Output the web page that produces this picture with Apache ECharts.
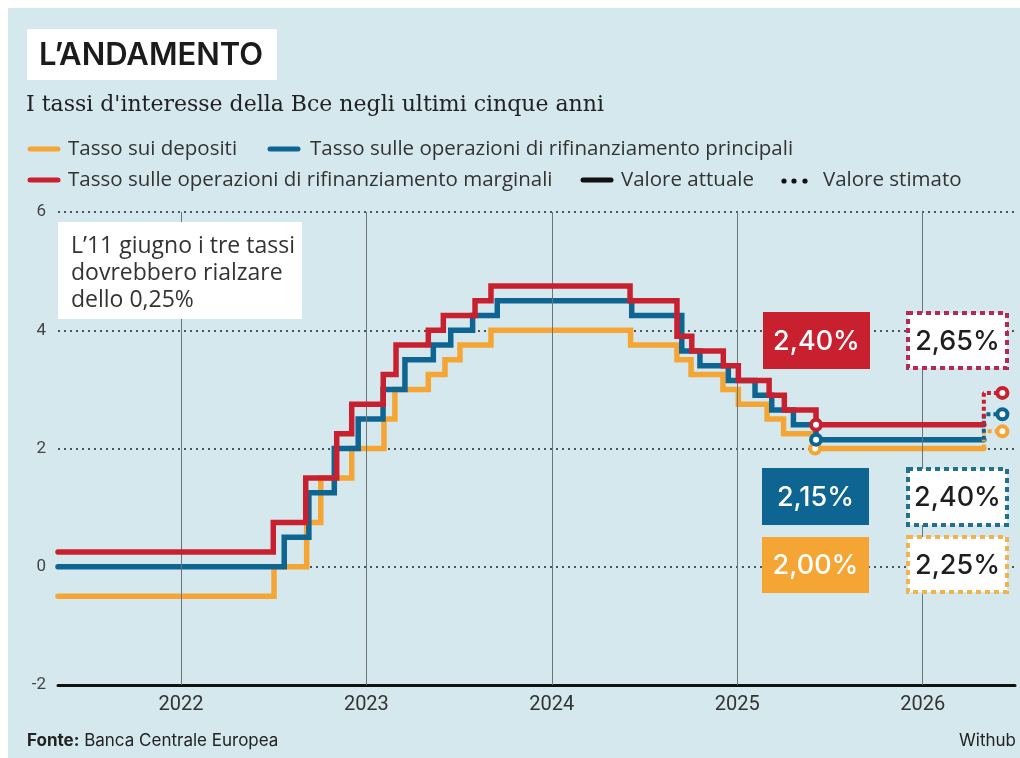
<!DOCTYPE html>
<html>
<head>
<meta charset="utf-8">
<script src="https://cdn.jsdelivr.net/npm/echarts@6/dist/echarts.min.js"></script>
<style>
html,body{margin:0;padding:0;background:#fff;}
#chartMain{width:1020px;height:758px;}
</style>
</head>
<body>
<div id="chartMain"></div>
<script>
// asse x in anni decimali, asse y in %
var yearTicks = [2022, 2023, 2024, 2025, 2026];

// Tasso sui depositi (date di variazione / nuovo valore)
var depositiDate = [2021.337, 2022.502, 2022.678, 2022.754, 2022.921, 2023.095, 2023.154, 2023.334, 2023.424, 2023.505, 2023.672,
    2024.425, 2024.675, 2024.751, 2024.923, 2025.006, 2025.161, 2025.250, 2025.420];
var depositiVal = [-0.5, 0, 0.75, 1.5, 2.0, 2.5, 3.0, 3.25, 3.5, 3.75, 4.0,
    3.75, 3.5, 3.25, 3.0, 2.75, 2.5, 2.25, 2.0];

// Tasso operazioni di rifinanziamento principali
var principaliDate = [2021.337, 2022.557, 2022.690, 2022.827, 2022.956, 2023.090, 2023.208, 2023.361, 2023.455, 2023.573, 2023.706,
    2024.431, 2024.701, 2024.799, 2024.952, 2025.096, 2025.186, 2025.303, 2025.425];
var principaliVal = [0, 0.5, 1.25, 2.0, 2.5, 3.0, 3.5, 3.75, 4.0, 4.25, 4.5,
    4.25, 3.65, 3.4, 3.15, 2.9, 2.65, 2.4, 2.15];

// Tasso operazioni di rifinanziamento marginali
var marginaliDate = [2021.337, 2022.498, 2022.673, 2022.840, 2022.921, 2023.091, 2023.160, 2023.334, 2023.415, 2023.586, 2023.672,
    2024.422, 2024.675, 2024.755, 2024.925, 2025.006, 2025.172, 2025.254, 2025.425];
var marginaliVal = [0.25, 0.75, 1.5, 2.25, 2.75, 3.25, 3.75, 4.0, 4.25, 4.5, 4.75,
    4.5, 3.9, 3.65, 3.4, 3.15, 2.9, 2.65, 2.4];

var fineAttuale = 2026.33;   // fine linea continua
var dataStima = 2026.43;     // punto stimato
var stimaPunti = [2.29, 2.58, 2.94]; // posizione dei cerchi stimati (dep, princ, marg)

var valoriAttuali = [2.00, 2.15, 2.40];
var valoriStimati = [2.25, 2.40, 2.65];

var nomi = ['Tasso sui depositi', 'Tasso sulle operazioni di rifinanziamento principali', 'Tasso sulle operazioni di rifinanziamento marginali'];
var colori = ['#f5a534', '#0e6592', '#c9202f'];
var coloriStima = ['#f2b34e', '#23708e', '#b52a53'];

function fnPairs(dd, vv){
    var arr = [];
    for(var i=0;i<dd.length;i++) arr.push([dd[i], vv[i]]);
    arr.push([fineAttuale, vv[vv.length-1]]);
    return arr;
}
function fnPct(v){ return v.toFixed(2).replace('.', ',') + '%'; }

var serie = [
    {dd: depositiDate, vv: depositiVal},
    {dd: principaliDate, vv: principaliVal},
    {dd: marginaliDate, vv: marginaliVal}
];

var FONT = 'Inter, "Noto Sans", sans-serif';
var FONT2 = '"Open Sans", Inter, sans-serif';
var seriesList = [];
// linee griglia verticali
seriesList.push({
    type: 'line', data: [], z: 1, silent: true,
    markLine: {
        silent: true, symbol: 'none', label: {show: false},
        lineStyle: {color: '#6b7478', width: 1, type: 'solid'},
        data: yearTicks.map(function(y){ return {xAxis: y}; })
    }
});
var ordine = [0, 2, 1];
ordine.forEach(function(k){
    seriesList.push({
        name: nomi[k], type: 'line', step: 'end', showSymbol: false, z: 3 + k,
        data: fnPairs(serie[k].dd, serie[k].vv),
        lineStyle: {color: colori[k], width: 5.5, cap: 'round', join: 'miter'}
    });
});
[0, 1, 2].forEach(function(k){
    var last = serie[k].vv[serie[k].vv.length-1];
    seriesList.push({
        type: 'line', step: 'start', showSymbol: false, z: 6,
        data: [[fineAttuale, last], [dataStima, stimaPunti[k]]],
        lineStyle: {color: colori[k], width: 4, type: [4, 3]}
    });
});
[0, 1, 2].forEach(function(k){
    var dd = serie[k].dd, vv = serie[k].vv;
    seriesList.push({
        type: 'scatter', z: 8 + k, symbol: 'circle', symbolSize: 10,
        data: [[dd[dd.length-1], vv[vv.length-1]], [dataStima, stimaPunti[k]]],
        itemStyle: {color: '#fff', borderColor: colori[k], borderWidth: 4, opacity: 1}
    });
});

function fnBox(x, y, w, h, fill, txt){
    return [
        {type: 'rect', z: 100, shape: {x: x, y: y, width: w, height: h}, style: {fill: fill}},
        {type: 'text', z: 101, style: {text: txt, x: x + w/2, y: y + h/2 + 1, font: '500 27px ' + FONT, fill: '#fff', textAlign: 'center', textVerticalAlign: 'middle'}}
    ];
}
function fnDashBox(x, y, w, h, stroke, txt){
    return [
        {type: 'rect', z: 100, shape: {x: x+2, y: y+2, width: w-4, height: h-4}, style: {fill: '#fff', stroke: stroke, lineWidth: 4, lineDash: [5, 4]}},
        {type: 'text', z: 101, style: {text: txt, x: x + w/2, y: y + h/2 + 1, font: '500 27px ' + FONT, fill: '#1e1e1e', textAlign: 'center', textVerticalAlign: 'middle'}}
    ];
}

var graphics = [
    {type: 'rect', z: -10, shape: {x: 8, y: 8, width: 1012, height: 750}, style: {fill: '#d5e8ed'}},
    {type: 'rect', z: 100, shape: {x: 27, y: 29, width: 250, height: 51}, style: {fill: '#fff'}},
    {type: 'text', z: 101, style: {text: 'L’ANDAMENTO', x: 39, y: 56, font: '600 31px ' + FONT, fill: '#1b1b1b', textVerticalAlign: 'middle'}},
    {type: 'text', z: 101, style: {text: "I tassi d'interesse della Bce negli ultimi cinque anni", x: 26, y: 105, font: '22px "DejaVu Serif", serif', fill: '#222', textVerticalAlign: 'middle'}},
    // legenda
    {type: 'line', z: 101, shape: {x1: 30, y1: 149, x2: 58, y2: 149}, style: {stroke: colori[0], lineWidth: 5, lineCap: 'round'}},
    {type: 'text', z: 101, style: {text: nomi[0], x: 68, y: 149, font: '20.5px ' + FONT2, fill: '#333', textVerticalAlign: 'middle'}},
    {type: 'line', z: 101, shape: {x1: 270, y1: 149, x2: 298, y2: 149}, style: {stroke: colori[1], lineWidth: 5, lineCap: 'round'}},
    {type: 'text', z: 101, style: {text: nomi[1], x: 310, y: 149, font: '20.5px ' + FONT2, fill: '#333', textVerticalAlign: 'middle'}},
    {type: 'line', z: 101, shape: {x1: 30, y1: 180, x2: 58, y2: 180}, style: {stroke: colori[2], lineWidth: 5, lineCap: 'round'}},
    {type: 'text', z: 101, style: {text: nomi[2], x: 68, y: 180, font: '20.5px ' + FONT2, fill: '#333', textVerticalAlign: 'middle'}},
    {type: 'line', z: 101, shape: {x1: 583, y1: 180, x2: 611, y2: 180}, style: {stroke: '#111', lineWidth: 5, lineCap: 'round'}},
    {type: 'text', z: 101, style: {text: 'Valore attuale', x: 621, y: 180, font: '20.5px ' + FONT2, fill: '#333', textVerticalAlign: 'middle'}},
    {type: 'circle', z: 101, shape: {cx: 784, cy: 181, r: 2.6}, style: {fill: '#111'}},
    {type: 'circle', z: 101, shape: {cx: 794, cy: 181, r: 2.6}, style: {fill: '#111'}},
    {type: 'circle', z: 101, shape: {cx: 805, cy: 181, r: 2.6}, style: {fill: '#111'}},
    {type: 'text', z: 101, style: {text: 'Valore stimato', x: 823, y: 180, font: '20.5px ' + FONT2, fill: '#333', textVerticalAlign: 'middle'}},
    // nota
    {type: 'rect', z: 100, shape: {x: 58, y: 222, width: 244, height: 97}, style: {fill: '#fff'}},
    {type: 'text', z: 101, style: {text: 'L’11 giugno i tre tassi\ndovrebbero rialzare\ndello 0,25%', x: 71, y: 233, font: '23px ' + FONT2, lineHeight: 27, fill: '#333'}},
    // fonte
    {type: 'text', z: 101, style: {text: '{b|Fonte:} Banca Centrale Europea', x: 27, y: 741, font: '17px ' + FONT, fill: '#222', textVerticalAlign: 'middle',
        rich: {b: {font: 'bold 17px ' + FONT, fill: '#222'}}}},
    {type: 'text', z: 101, style: {text: 'Withub', x: 1016, y: 741, font: '17px ' + FONT, fill: '#222', textAlign: 'right', textVerticalAlign: 'middle'}}
];
graphics = graphics
    .concat(fnBox(763, 312, 107, 57, colori[2], fnPct(valoriAttuali[2])))
    .concat(fnBox(762, 468, 107, 57, colori[1], fnPct(valoriAttuali[1])))
    .concat(fnBox(762, 537, 107, 56, colori[0], fnPct(valoriAttuali[0])))
    .concat(fnDashBox(906, 311, 103, 59, coloriStima[2], fnPct(valoriStimati[2])))
    .concat(fnDashBox(906, 467, 103, 60, coloriStima[1], fnPct(valoriStimati[1])))
    .concat(fnDashBox(906, 535, 103, 59, coloriStima[0], fnPct(valoriStimati[0])));

var myChart = echarts.init(document.getElementById('chartMain'));
myChart.setOption({
    backgroundColor: '#fff',
    animation: false,
    grid: {left: 58, right: 5, top: 212, bottom: 73},
    xAxis: {
        type: 'value', min: 2021.337, max: 2026.498,
        axisLine: {show: true, onZero: false, lineStyle: {color: '#111', width: 3}},
        axisTick: {show: false},
        splitLine: {show: false},
        axisLabel: {customValues: yearTicks, margin: 10, fontSize: 20, color: '#333', fontFamily: 'Roboto', formatter: function(v){ return String(Math.round(v)); }}
    },
    yAxis: {
        type: 'value', min: -2, max: 6, interval: 2,
        axisLine: {show: false}, axisTick: {show: false},
        axisLabel: {margin: 12, fontSize: 17, color: '#444', fontFamily: 'Roboto'},
        splitLine: {show: true, lineStyle: {color: '#4d5558', width: 2, type: [2, 4]}}
    },
    graphic: graphics,
    series: seriesList
});
</script>
</body>
</html>
